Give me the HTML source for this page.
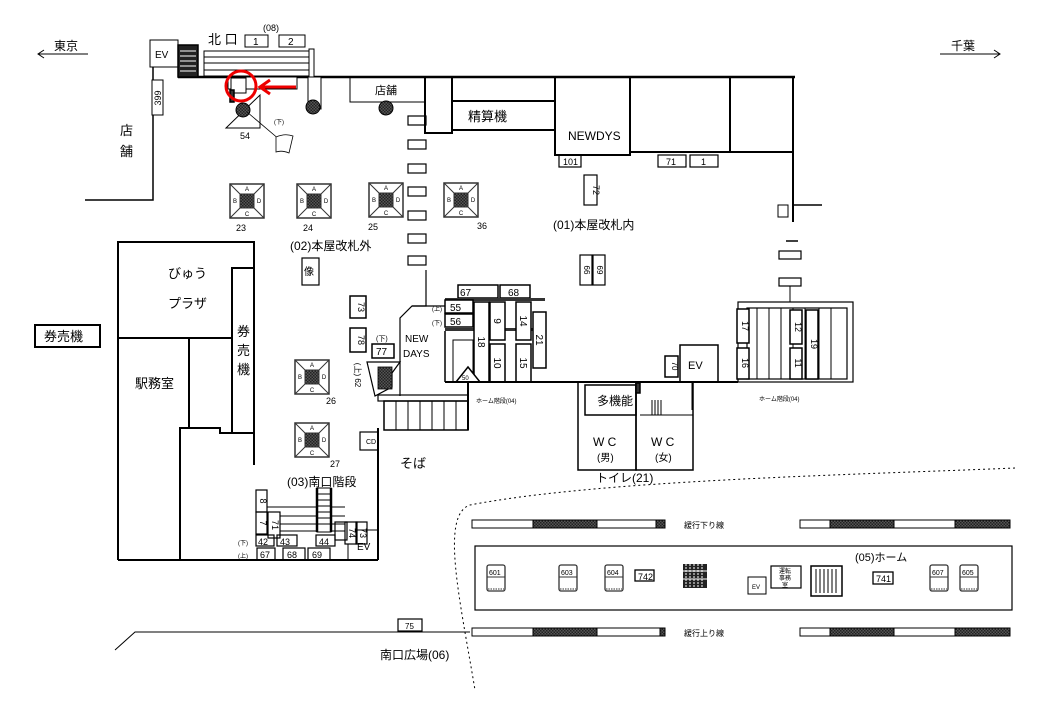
<!DOCTYPE html>
<html><head><meta charset="utf-8"><style>
html,body{margin:0;padding:0;background:#fff;}
svg{display:block;font-family:"Liberation Sans","Noto Sans CJK JP",sans-serif;}
</style></head><body>
<svg width="1040" height="720" viewBox="0 0 1040 720" xmlns="http://www.w3.org/2000/svg">
<defs>
<pattern id="chk" width="3" height="3" patternUnits="userSpaceOnUse"><rect width="3" height="3" fill="#555"/><rect width="1.5" height="1.5" fill="#222"/><rect x="1.5" y="1.5" width="1.5" height="1.5" fill="#222"/></pattern>
<g id="esc">
<rect x="0" y="0" width="34" height="34" fill="#fff" stroke="#333" stroke-width="1.5"/>
<line x1="0" y1="0" x2="34" y2="34" stroke="#333"/><line x1="34" y1="0" x2="0" y2="34" stroke="#333"/>
<rect x="10" y="10" width="14" height="14" fill="url(#chk)" stroke="#333"/>
</g>
<g id="bench">
<rect x="0" y="0" width="18" height="26" rx="2" fill="#fff" stroke="#333" stroke-width="1.3"/>
<line x1="0" y1="12" x2="18" y2="12" stroke="#333"/>
<line x1="1" y1="24" x2="17" y2="24" stroke="#333" stroke-dasharray="1.5 1"/>
</g>
</defs>
<g fill="none" stroke="#000" stroke-width="1.5">
<line x1="38" y1="54" x2="88" y2="54" stroke-width="1"/><polyline points="44,50 38,54 44,58" stroke-width="1"/>
<line x1="940" y1="54" x2="1000" y2="54" stroke-width="1"/><polyline points="994,50 1000,54 994,58" stroke-width="1"/>
<line x1="178" y1="77" x2="795" y2="77" stroke-width="2.5"/>
<line x1="793" y1="77" x2="793" y2="222" stroke-width="2"/>
<line x1="793" y1="205" x2="822" y2="205" stroke-width="1.5"/>
<rect x="778" y="205" width="10" height="12" fill="#fff" stroke-width="1"/>
<line x1="786" y1="241" x2="798" y2="241" stroke-width="1.5"/>
<rect x="779" y="251" width="22" height="8" fill="#fff" stroke-width="1.2"/>
<rect x="779" y="278" width="22" height="8" fill="#fff" stroke-width="1.2"/>
<line x1="790" y1="286" x2="790" y2="302" stroke-width="1"/>
<rect x="150" y="40" width="28" height="27" fill="#fff" stroke-width="1"/>
<rect x="178" y="45" width="20" height="32" fill="#222"/>
<g stroke="#fff" stroke-width="1"><line x1="180" y1="51" x2="196" y2="51"/><line x1="180" y1="56" x2="196" y2="56"/><line x1="180" y1="61" x2="196" y2="61"/><line x1="180" y1="66" x2="196" y2="66"/><line x1="180" y1="71" x2="196" y2="71"/></g>
<rect x="204" y="51" width="107" height="25" stroke-width="1"/>
<g stroke-width="1"><line x1="204" y1="57" x2="311" y2="57"/><line x1="204" y1="63" x2="311" y2="63"/><line x1="204" y1="70" x2="311" y2="70"/></g>
<rect x="309" y="49" width="5" height="28" fill="#fff" stroke-width="1"/>
<rect x="245" y="35" width="23" height="12" stroke-width="1"/>
<rect x="279" y="35" width="26" height="12" stroke-width="1"/>
<polyline points="153,67 153,200 85,200" stroke-width="1.5"/>
<rect x="152" y="80" width="11" height="35" fill="#fff" stroke-width="1"/>
<rect x="228" y="77" width="69" height="12" fill="#fff" stroke-width="1"/>
<rect x="231" y="78" width="15" height="15" fill="#fff" stroke-width="1"/>
<rect x="230" y="90" width="4" height="12" fill="#333"/>
<polygon points="226,128 260,128 260,95" fill="#fff" stroke-width="1"/>
<circle cx="243" cy="110" r="7" fill="url(#chk)" stroke-width="1"/>
<line x1="247" y1="112" x2="280" y2="140" stroke-width="0.8"/>
<path d="M276 137 Q285 133 293 136 L289 153 Q282 150 276 152 Z" fill="#fff" stroke-width="0.8"/>
<rect x="308" y="77" width="13" height="32" fill="#fff" stroke-width="1"/>
<circle cx="313" cy="107" r="7" fill="url(#chk)" stroke-width="1"/>
<circle cx="241" cy="86" r="15" stroke="#e00" stroke-width="3"/>
<line x1="296" y1="87" x2="262" y2="87" stroke="#e00" stroke-width="3"/>
<polyline points="270,80 260,87 270,94" stroke="#e00" stroke-width="3"/>
<rect x="350" y="77" width="75" height="25" stroke-width="1"/>
<circle cx="386" cy="108" r="7" fill="url(#chk)" stroke-width="1"/>
<rect x="425" y="77" width="27" height="56" stroke-width="2"/>
<rect x="452" y="101" width="103" height="29" stroke-width="2"/>
<rect x="555" y="77" width="75" height="78" stroke-width="2"/>
<rect x="630" y="77" width="100" height="75" stroke-width="2"/>
<rect x="730" y="77" width="63" height="75" stroke-width="2"/>
<rect x="559" y="155" width="22" height="12" stroke-width="1.2"/>
<rect x="658" y="155" width="28" height="12" stroke-width="1.2"/>
<rect x="690" y="155" width="28" height="12" stroke-width="1.2"/>
<rect x="584" y="175" width="13" height="30" stroke-width="1.2"/>
<rect x="580" y="255" width="12" height="30" stroke-width="1.2"/>
<rect x="593" y="255" width="12" height="30" stroke-width="1.2"/>
<g stroke-width="1.2"><rect x="408" y="116" width="18" height="9"/><rect x="408" y="140" width="18" height="9"/><rect x="408" y="164" width="18" height="9"/><rect x="408" y="187" width="18" height="9"/><rect x="408" y="211" width="18" height="9"/><rect x="408" y="234" width="18" height="9"/><rect x="408" y="256" width="18" height="9"/></g>
<polyline points="118,560 118,242 254,242 254,465" stroke-width="2"/>
<rect x="232" y="268" width="22" height="165" stroke-width="2"/>
<line x1="118" y1="338" x2="232" y2="338" stroke-width="2"/>
<line x1="189" y1="338" x2="189" y2="428" stroke-width="2"/>
<polyline points="180,560 180,428 220,428 220,433 232,433" stroke-width="2"/>
<line x1="118" y1="560" x2="378" y2="560" stroke-width="2"/>
<rect x="35" y="325" width="65" height="22" stroke-width="2"/>
<rect x="302" y="258" width="17" height="27" stroke-width="1.2"/>
<rect x="350" y="296" width="16" height="22" stroke-width="1.5"/>
<rect x="350" y="328" width="16" height="24" stroke-width="1.5"/>
<rect x="372" y="344" width="22" height="14" stroke-width="1.5"/>
<polygon points="367,362 400,362 392,373 392,387 375,396" fill="#fff" stroke-width="1.2"/>
<rect x="378" y="367" width="14" height="22" fill="url(#chk)" stroke-width="0.8"/>
<polyline points="426,270 426,306 412,306 400,318 400,396" stroke-width="1.2"/>
<line x1="412" y1="306" x2="445" y2="306" stroke-width="1.2"/>
<rect x="378" y="395" width="90" height="6" stroke-width="1.2"/>
<rect x="384" y="401" width="84" height="29" stroke-width="1.5"/>
<g stroke-width="1"><line x1="396" y1="401" x2="396" y2="430"/><line x1="408" y1="401" x2="408" y2="430"/><line x1="420" y1="401" x2="420" y2="430"/><line x1="432" y1="401" x2="432" y2="430"/><line x1="444" y1="401" x2="444" y2="430"/><line x1="456" y1="401" x2="456" y2="430"/></g>
<line x1="468" y1="382" x2="468" y2="430" stroke-width="2"/>
<line x1="378" y1="428" x2="378" y2="560" stroke-width="2"/>
<rect x="360" y="432" width="18" height="18" stroke-width="1.2"/>
<rect x="458" y="285" width="40" height="13" stroke-width="1.5"/>
<rect x="500" y="285" width="30" height="13" stroke-width="1.5"/>
<rect x="445" y="298" width="100" height="3" fill="#333" stroke="none"/>
<rect x="445" y="328" width="100" height="3" fill="#333" stroke="none"/>
<rect x="445" y="300" width="28" height="13" fill="#fff" stroke-width="1.5"/>
<rect x="445" y="314" width="28" height="13" fill="#fff" stroke-width="1.5"/>
<rect x="474" y="302" width="15" height="80" fill="#fff" stroke-width="1.5"/>
<rect x="490" y="302" width="15" height="38" fill="#fff" stroke-width="1.5"/>
<rect x="490" y="344" width="15" height="38" fill="#fff" stroke-width="1.5"/>
<rect x="516" y="302" width="15" height="38" fill="#fff" stroke-width="1.5"/>
<rect x="516" y="344" width="15" height="38" fill="#fff" stroke-width="1.5"/>
<rect x="533" y="312" width="13" height="56" fill="#fff" stroke-width="1.5"/>
<line x1="445" y1="331" x2="445" y2="382" stroke-width="1.5"/>
<rect x="453" y="340" width="20" height="42" stroke-width="1"/>
<polygon points="456,382 468,367 480,382" fill="#fff" stroke-width="1.5"/>
<line x1="445" y1="382" x2="738" y2="382" stroke-width="2"/>
<rect x="578" y="382" width="58" height="88" stroke-width="1.5"/>
<rect x="636" y="382" width="57" height="88" stroke-width="1.5"/>
<rect x="585" y="385" width="51" height="30" stroke-width="1.5"/>
<rect x="636" y="383" width="4" height="10" fill="#333"/>
<g stroke-width="1"><line x1="652" y1="400" x2="652" y2="415"/><line x1="655" y1="400" x2="655" y2="415"/><line x1="658" y1="400" x2="658" y2="415"/><line x1="661" y1="400" x2="661" y2="415"/></g>
<line x1="640" y1="415" x2="693" y2="415" stroke-width="1"/>
<rect x="680" y="345" width="38" height="37" stroke-width="1.5"/>
<rect x="665" y="356" width="13" height="21" stroke-width="1.5"/>
<line x1="692" y1="382" x2="692" y2="410" stroke-width="1"/>
<rect x="738" y="302" width="115" height="80" stroke-width="1.2"/>
<rect x="747" y="308" width="100" height="71" stroke-width="1.2"/>
<g stroke-width="1"><line x1="757" y1="308" x2="757" y2="379"/><line x1="769" y1="308" x2="769" y2="379"/><line x1="781" y1="308" x2="781" y2="379"/><line x1="793" y1="308" x2="793" y2="379"/><line x1="805" y1="308" x2="805" y2="379"/><line x1="819" y1="308" x2="819" y2="379"/><line x1="831" y1="308" x2="831" y2="379"/></g>
<rect x="737" y="309" width="12" height="34" fill="#fff" stroke-width="1.5"/>
<rect x="737" y="348" width="12" height="31" fill="#fff" stroke-width="1.5"/>
<rect x="790" y="310" width="12" height="34" fill="#fff" stroke-width="1.5"/>
<rect x="790" y="348" width="12" height="31" fill="#fff" stroke-width="1.5"/>
<rect x="806" y="310" width="12" height="69" fill="#fff" stroke-width="1.5"/>
<rect x="256" y="490" width="11" height="22" stroke-width="1.2"/>
<rect x="256" y="512" width="11" height="22" stroke-width="1.2"/>
<rect x="268" y="512" width="12" height="26" stroke-width="1.2"/>
<g stroke-width="1"><line x1="267" y1="507" x2="345" y2="507"/><line x1="280" y1="516" x2="345" y2="516"/><line x1="280" y1="524" x2="345" y2="524"/><line x1="280" y1="531" x2="345" y2="531"/></g>
<rect x="317" y="488" width="14" height="44" fill="#fff" stroke-width="1"/>
<line x1="317" y1="488" x2="317" y2="532" stroke-width="2.5"/><line x1="331" y1="488" x2="331" y2="532" stroke-width="2.5"/>
<g stroke-width="1"><line x1="317" y1="494" x2="331" y2="494"/><line x1="317" y1="500" x2="331" y2="500"/><line x1="317" y1="506" x2="331" y2="506"/><line x1="317" y1="512" x2="331" y2="512"/><line x1="317" y1="518" x2="331" y2="518"/><line x1="317" y1="524" x2="331" y2="524"/></g>
<rect x="335" y="522" width="12" height="18" stroke-width="1.2"/>
<rect x="345" y="522" width="12" height="22" stroke-width="1.2"/>
<rect x="356" y="522" width="11" height="22" stroke-width="1.2"/>
<line x1="357" y1="530" x2="378" y2="530" stroke-width="1"/>
<rect x="256" y="535" width="18" height="11" stroke-width="1.2"/>
<rect x="277" y="535" width="20" height="11" stroke-width="1.2"/>
<rect x="316" y="535" width="19" height="11" stroke-width="1.2"/>
<rect x="257" y="548" width="18" height="12" stroke-width="1.2"/>
<rect x="283" y="548" width="22" height="12" stroke-width="1.2"/>
<rect x="308" y="548" width="22" height="12" stroke-width="1.2"/>
<line x1="348" y1="544" x2="348" y2="560" stroke-width="1"/>
<polyline points="115,650 135,632 470,632" stroke-width="1"/>
<rect x="398" y="619" width="24" height="12" stroke-width="1.2"/>
<path d="M1015 468 C850 475 600 480 470 505 C440 515 460 600 475 690" stroke-width="1" stroke-dasharray="2 3"/>
<rect x="472" y="520" width="193" height="8" stroke-width="1"/>
<rect x="533" y="520" width="64" height="8" fill="url(#chk)" stroke-width="1"/>
<rect x="656" y="520" width="9" height="8" fill="url(#chk)" stroke-width="1"/>
<rect x="800" y="520" width="210" height="8" stroke-width="1"/>
<rect x="830" y="520" width="64" height="8" fill="url(#chk)" stroke-width="1"/>
<rect x="955" y="520" width="55" height="8" fill="url(#chk)" stroke-width="1"/>
<rect x="472" y="628" width="193" height="8" stroke-width="1"/>
<rect x="533" y="628" width="64" height="8" fill="url(#chk)" stroke-width="1"/>
<rect x="660" y="628" width="5" height="8" fill="url(#chk)" stroke-width="1"/>
<rect x="800" y="628" width="210" height="8" stroke-width="1"/>
<rect x="830" y="628" width="64" height="8" fill="url(#chk)" stroke-width="1"/>
<rect x="955" y="628" width="55" height="8" fill="url(#chk)" stroke-width="1"/>
<rect x="475" y="546" width="537" height="64" stroke-width="1.2"/>
<rect x="635" y="570" width="19" height="11" stroke-width="1.3"/>
<rect x="683" y="564" width="24" height="24" fill="#222" stroke="none"/>
<g stroke="#fff" stroke-width="1"><line x1="683" y1="571" x2="707" y2="571"/><line x1="683" y1="579" x2="707" y2="579"/><line x1="686" y1="564" x2="686" y2="588" stroke-dasharray="2 1"/><line x1="690" y1="564" x2="690" y2="588" stroke-dasharray="2 1"/><line x1="694" y1="564" x2="694" y2="588" stroke-dasharray="2 1"/><line x1="698" y1="564" x2="698" y2="588" stroke-dasharray="2 1"/><line x1="702" y1="564" x2="702" y2="588" stroke-dasharray="2 1"/></g>
<rect x="748" y="577" width="18" height="17" stroke-width="1"/>
<rect x="771" y="566" width="30" height="22" stroke-width="1.2"/>
<rect x="811" y="566" width="31" height="30" stroke-width="1.5"/>
<g stroke-width="1"><line x1="816" y1="569" x2="816" y2="593"/><line x1="820" y1="569" x2="820" y2="593"/><line x1="824" y1="569" x2="824" y2="593"/><line x1="828" y1="569" x2="828" y2="593"/><line x1="832" y1="569" x2="832" y2="593"/><line x1="836" y1="569" x2="836" y2="593"/></g>
<rect x="873" y="572" width="20" height="12" stroke-width="1.3"/>
</g>
<use href="#esc" x="230" y="184"/><use href="#esc" x="297" y="184"/><use href="#esc" x="369" y="183"/><use href="#esc" x="444" y="183"/>
<use href="#esc" x="295" y="360"/><use href="#esc" x="295" y="423"/>
<g font-size="6" fill="#000" text-anchor="middle">
<text x="247" y="191">A</text><text x="247" y="216">C</text><text x="235" y="203">B</text><text x="259" y="203">D</text>
<text x="314" y="191">A</text><text x="314" y="216">C</text><text x="302" y="203">B</text><text x="326" y="203">D</text>
<text x="386" y="190">A</text><text x="386" y="215">C</text><text x="374" y="202">B</text><text x="398" y="202">D</text>
<text x="461" y="190">A</text><text x="461" y="215">C</text><text x="449" y="202">B</text><text x="473" y="202">D</text>
<text x="312" y="367">A</text><text x="312" y="392">C</text><text x="300" y="379">B</text><text x="324" y="379">D</text>
<text x="312" y="430">A</text><text x="312" y="455">C</text><text x="300" y="442">B</text><text x="324" y="442">D</text>
</g>
<use href="#bench" x="487" y="565"/><use href="#bench" x="559" y="565"/><use href="#bench" x="605" y="565"/><use href="#bench" x="930" y="565"/><use href="#bench" x="960" y="565"/>
<g font-size="12" fill="#000">
<text x="54" y="50">東京</text><text x="951" y="50">千葉</text>
<text x="155" y="58" font-size="10">EV</text>
<text x="208" y="44" font-size="13">北 口</text>
<text x="263" y="31" font-size="9">(08)</text>
<text x="253" y="45" font-size="10">1</text><text x="288" y="45" font-size="10">2</text>
<text x="120" y="135" font-size="13">店</text><text x="120" y="156" font-size="13">舗</text>
<text transform="translate(161,98) rotate(-90)" font-size="9" text-anchor="middle">399</text>
<text x="240" y="139" font-size="9">54</text>
<text x="274" y="124" font-size="6">(下)</text>
<text x="375" y="94" font-size="11">店舗</text>
<text x="468" y="121" font-size="13">精算機</text>
<text x="568" y="140" font-size="12">NEWDYS</text>
<text x="563" y="165" font-size="9">101</text><text x="666" y="165" font-size="9">71</text><text x="701" y="165" font-size="9">1</text>
<text transform="translate(593,190) rotate(90)" font-size="9" text-anchor="middle">72</text>
<text x="553" y="229" font-size="12">(01)本屋改札内</text>
<text x="290" y="250" font-size="12">(02)本屋改札外</text>
<text x="236" y="231" font-size="9">23</text><text x="303" y="231" font-size="9">24</text><text x="368" y="230" font-size="9">25</text><text x="477" y="229" font-size="9">36</text>
<text x="304" y="275" font-size="10">像</text>
<text x="168" y="278" font-size="13">びゅう</text>
<text x="168" y="308" font-size="13">プラザ</text>
<text x="237" y="336" font-size="13">券</text><text x="237" y="355" font-size="13">売</text><text x="237" y="374" font-size="13">機</text>
<text x="135" y="388" font-size="13">駅務室</text>
<text x="44" y="341" font-size="13">券売機</text>
<text transform="translate(358,307) rotate(90)" font-size="9" text-anchor="middle">73</text>
<text transform="translate(358,340) rotate(90)" font-size="9" text-anchor="middle">78</text>
<text transform="translate(355,375) rotate(90)" font-size="8" text-anchor="middle">(上) 62</text>
<text x="376" y="341" font-size="7">(下)</text>
<text x="376" y="355" font-size="10">77</text>
<text x="405" y="342" font-size="10">NEW</text><text x="403" y="357" font-size="10">DAYS</text>
<text x="326" y="404" font-size="9">26</text><text x="330" y="467" font-size="9">27</text>
<text x="366" y="444" font-size="7">CD</text>
<text x="400" y="468" font-size="13">そば</text>
<text x="460" y="296" font-size="10">67</text><text x="508" y="296" font-size="10">68</text>
<text x="450" y="311" font-size="10">55</text><text x="450" y="325" font-size="10">56</text>
<text x="432" y="311" font-size="6">(上)</text><text x="432" y="325" font-size="6">(下)</text>
<text transform="translate(478,342) rotate(90)" font-size="10" text-anchor="middle">18</text>
<text transform="translate(494,321) rotate(90)" font-size="10" text-anchor="middle">9</text>
<text transform="translate(494,363) rotate(90)" font-size="10" text-anchor="middle">10</text>
<text transform="translate(520,321) rotate(90)" font-size="10" text-anchor="middle">14</text>
<text transform="translate(520,363) rotate(90)" font-size="10" text-anchor="middle">15</text>
<text transform="translate(536,340) rotate(90)" font-size="10" text-anchor="middle">21</text>
<text transform="translate(584,270) rotate(90)" font-size="8" text-anchor="middle">66</text>
<text transform="translate(597,270) rotate(90)" font-size="8" text-anchor="middle">69</text>
<text x="462" y="380" font-size="6">50</text>
<text x="476" y="403" font-size="6">ホーム階段(04)</text>
<text x="597" y="405" font-size="12">多機能</text>
<text x="593" y="446" font-size="12">W C</text><text x="597" y="461" font-size="10">(男)</text>
<text x="651" y="446" font-size="12">W C</text><text x="655" y="461" font-size="10">(女)</text>
<text x="596" y="482" font-size="12">トイレ(21)</text>
<text x="688" y="369" font-size="11">EV</text>
<text transform="translate(672,366) rotate(90)" font-size="8" text-anchor="middle">70</text>
<text transform="translate(742,326) rotate(90)" font-size="9" text-anchor="middle">17</text>
<text transform="translate(742,363) rotate(90)" font-size="9" text-anchor="middle">16</text>
<text transform="translate(795,327) rotate(90)" font-size="9" text-anchor="middle">12</text>
<text transform="translate(795,363) rotate(90)" font-size="9" text-anchor="middle">11</text>
<text transform="translate(811,344) rotate(90)" font-size="9" text-anchor="middle">19</text>
<text x="759" y="401" font-size="6">ホーム階段(04)</text>
<text x="287" y="486" font-size="12">(03)南口階段</text>
<text transform="translate(260,501) rotate(90)" font-size="9" text-anchor="middle">8</text>
<text transform="translate(260,523) rotate(90)" font-size="9" text-anchor="middle">7</text>
<text transform="translate(272,525) rotate(90)" font-size="9" text-anchor="middle">71</text>
<text transform="translate(349,533) rotate(90)" font-size="9" text-anchor="middle">74</text>
<text transform="translate(360,533) rotate(90)" font-size="9" text-anchor="middle">73</text>
<text x="258" y="545" font-size="9">42</text><text x="280" y="545" font-size="9">43</text><text x="319" y="545" font-size="9">44</text>
<text x="260" y="558" font-size="9">67</text><text x="287" y="558" font-size="9">68</text><text x="312" y="558" font-size="9">69</text>
<text x="238" y="545" font-size="6">(下)</text><text x="238" y="558" font-size="6">(上)</text>
<text x="357" y="550" font-size="10">EV</text>
<text x="405" y="629" font-size="8">75</text>
<text x="380" y="659" font-size="12">南口広場(06)</text>
<text x="684" y="528" font-size="8">緩行下り線</text>
<text x="684" y="636" font-size="8">緩行上り線</text>
<text x="855" y="561" font-size="11">(05)ホーム</text>
<text x="638" y="580" font-size="9">742</text>
<text x="876" y="582" font-size="9">741</text>
<text x="752" y="589" font-size="6">EV</text>
<text x="779" y="573" font-size="6">運転</text><text x="779" y="580" font-size="6">事務</text><text x="782" y="587" font-size="6">室</text>
<text x="489" y="575" font-size="7">601</text><text x="561" y="575" font-size="7">603</text><text x="607" y="575" font-size="7">604</text><text x="932" y="575" font-size="7">607</text><text x="962" y="575" font-size="7">605</text>
</g>
</svg>
</body></html>
